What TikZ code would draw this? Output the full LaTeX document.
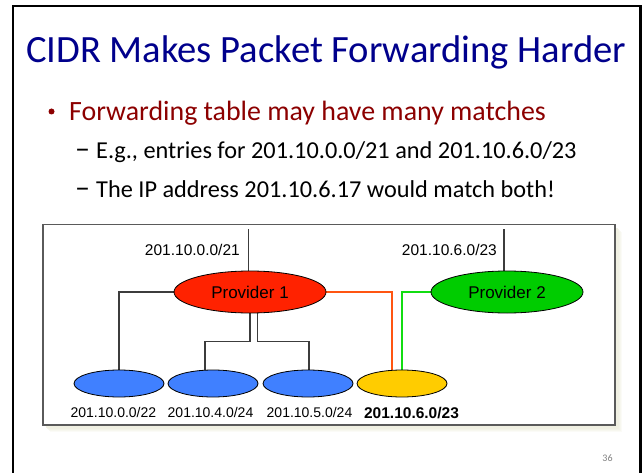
\documentclass[tikz,border=0pt]{standalone}
\usepackage{fontspec}
\setmainfont{Carlito}
\newfontfamily\arialfont{Liberation Sans}
\usetikzlibrary{shapes.geometric,backgrounds,calc}

\definecolor{titleblue}{RGB}{0,0,140}
\definecolor{bulletred}{RGB}{140,0,0}
\definecolor{provred}{RGB}{255,34,0}
\definecolor{provgreen}{RGB}{0,204,0}
\definecolor{custblue}{RGB}{64,128,255}
\definecolor{custyellow}{RGB}{255,204,0}
\definecolor{linkorange}{RGB}{255,85,17}
\definecolor{linkgreen}{RGB}{17,221,17}
\definecolor{wiregray}{RGB}{60,60,60}
\definecolor{boxgray}{RGB}{90,90,90}
\definecolor{shadowtint}{RGB}{240,240,226}

\tikzset{
  provider/.style={ellipse, draw=black, line width=0.8pt, minimum width=152pt,
    minimum height=42pt, inner sep=0pt, font=\arialfont\fontsize{17}{20}\selectfont},
  customer/.style={ellipse, draw=black, line width=0.8pt, minimum width=90pt,
    minimum height=27pt, inner sep=0pt},
  pfxlabel/.style={inner sep=0pt, font=\arialfont\fontsize{15.5}{18}\selectfont},
  subpfxlabel/.style={inner sep=0pt, font=\arialfont\fontsize{14}{16}\selectfont},
  wire/.style={draw=wiregray, line width=1.2pt},
  slidetext/.style={anchor=base west, inner sep=0pt}
}

\begin{document}
\begin{tikzpicture}[x=1pt,y=-1pt]
  \useasboundingbox (0,0) rectangle (642,473);
  \begin{scope}[on background layer]
    \fill[white] (0,0) rectangle (642,473);
  \end{scope}

  % slide frame (open at the bottom)
  \draw[line width=2.5pt] (12.8,480) -- (12.8,5.8) -- (640.5,5.8) -- (640.5,480);

  % title and bullets
  \node[slidetext, text=titleblue] (title) at (26,63)
    {\fontsize{38.6}{42}\selectfont CIDR Makes Packet Forwarding Harder};
  \fill[bulletred] (51.5,111.5) circle (3pt);
  \node[slidetext, text=bulletred] (b0) at (69,121)
    {\fontsize{27.9}{32}\selectfont Forwarding table may have many matches};
  \node[slidetext] (d1) at (75,159) {\fontsize{30}{28}\selectfont –};
  \node[slidetext] (s1) at (96,159)
    {\fontsize{24.3}{28}\selectfont E.g., entries for 201.10.0.0/21 and 201.10.6.0/23};
  \node[slidetext] (d2) at (75,197) {\fontsize{30}{28}\selectfont –};
  \node[slidetext] (s2) at (96,197)
    {\fontsize{24.3}{28}\selectfont The IP address 201.10.6.17 would match both!};

  % routers and customers
  \node[provider, fill=provred] (p1) at (250,292) {Provider 1};
  \node[provider, fill=provgreen] (p2) at (507,292) {Provider 2};
  \node[customer, fill=custblue] (c1) at (119,383.5) {};
  \node[customer, fill=custblue] (c2) at (213,383.5) {};
  \node[customer, fill=custblue] (c3) at (308,383.5) {};
  \node[customer, fill=custyellow] (c4) at (402,383.5) {};

  % address blocks
  \node[pfxlabel, anchor=east] (l1) at (240,250) {201.10.0.0/21};
  \node[pfxlabel, anchor=east] (l2) at (497,250) {201.10.6.0/23};
  \node[subpfxlabel] (n1) at (113.4,412.7) {201.10.0.0/22};
  \node[subpfxlabel] (n2) at (210.5,412.7) {201.10.4.0/24};
  \node[subpfxlabel] (n3) at (309.5,412.7) {201.10.5.0/24};
  \node[pfxlabel, font=\arialfont\bfseries\fontsize{15.5}{18}\selectfont] (n4) at (411.5,412.7) {201.10.6.0/23};

  % page number
  \node[inner sep=0pt, text=gray, font=\fontsize{10}{12}\selectfont] (pg) at (607.5,458) {36};

  % links
  \coordinate (t1) at (248.3,229);
  \coordinate (t2) at (504,229);
  \coordinate (bus) at (0,341.7);
  \begin{scope}[on background layer]
    % diagram panel with a soft shadow, beneath the links
    \foreach \o/\a in {7/0.25,6/0.35,5/0.5,4/0.7,3/0.9}
      \fill[shadowtint, opacity=\a] (43+\o,224.5+\o) rectangle (615+\o,425+\o);
    \filldraw[fill=white, draw=boxgray, line width=1.4pt] (43,224.5) rectangle (615,425);

    \draw[wire] (t1) -- (t1 |- p1.center);
    \draw[wire] (t2) -- (t2 |- p2.center);
    \draw[wire] (p1.west) -| (c1.north);
    \draw[wire] (p1.center) |- ([xshift=-8pt]c2.north |- bus) -- ([xshift=-8pt]c2.north);
    \draw[wire] ([xshift=7.7pt]p1.center) |- ([xshift=1pt]c3.north |- bus) -- ([xshift=1pt]c3.north);
    \draw[draw=linkorange, line width=1.4pt] (p1.east) -| ([xshift=-10pt]c4.north);
    \draw[draw=linkgreen, line width=1.4pt] (p2.west) -| (c4.north);
  \end{scope}
\end{tikzpicture}
\end{document}
